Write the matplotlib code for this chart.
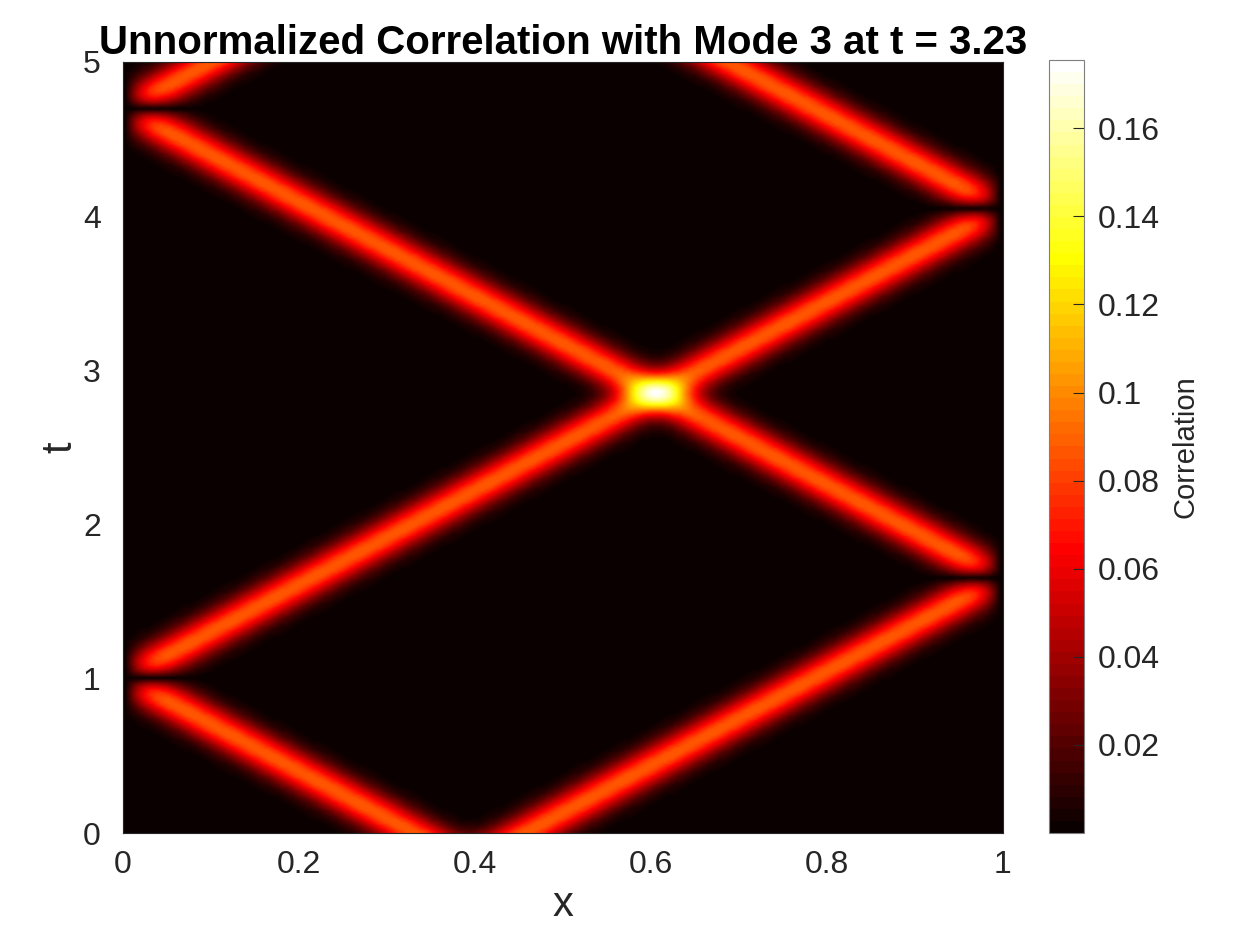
import numpy as np
import matplotlib
matplotlib.use("Agg")
import matplotlib.pyplot as plt

# -------------------------
# Values
# -------------------------
pulse_start_x = [0.328, 0.459]     # pulse centres at t = 0
pulse_direction = [-1, 1]          # left-moving, right-moving
wave_speed = 0.328                 # dx/dt of each band
pulse_width = 0.032                # gaussian sigma in x
pulse_peak = 0.0875                # band height (crossing reaches 2x)

x_range = [0.0, 1.0]
t_range = [0.0, 5.0]
n_x, n_t = 241, 361

c_min, c_max = 0.0, 0.1755
cbar_ticks = [0.02, 0.04, 0.06, 0.08, 0.10, 0.12, 0.14, 0.16]
cbar_labels = ["0.02", "0.04", "0.06", "0.08", "0.1", "0.12", "0.14", "0.16"]
x_ticks = [0, 0.2, 0.4, 0.6, 0.8, 1.0]
x_labels = ["0", "0.2", "0.4", "0.6", "0.8", "1"]
t_ticks = [0, 1, 2, 3, 4, 5]
t_labels = ["0", "1", "2", "3", "4", "5"]

title_txt = "Unnormalized Correlation with Mode 3 at t = 3.23"

# -------------------------
# Field: gaussian pulses reflecting off x=0 and x=1 (method of images)
# -------------------------
xs = np.linspace(x_range[0], x_range[1], n_x)
ts = np.linspace(t_range[0], t_range[1], n_t)
X, T = np.meshgrid(xs, ts)


def gauss(s):
    return np.exp(-s ** 2 / (2 * pulse_width ** 2))


field = np.zeros_like(X)
for x0, d in zip(pulse_start_x, pulse_direction):
    pos = x0 + d * wave_speed * T
    u = np.zeros_like(X)
    for n in range(-4, 5):
        u += gauss(X - pos - 2 * n) - gauss(X + pos + 2 * n)
    field += np.abs(u)
field *= pulse_peak

# -------------------------
# Plot
# -------------------------
plt.rcParams["font.family"] = ["Liberation Sans", "DejaVu Sans"]
txt_col = "#262626"

fig = plt.figure(figsize=(12.5, 9.38), dpi=100)
ax = fig.add_axes([123 / 1250, 1 - 833 / 938, 880 / 1250, 771 / 938])
cax = fig.add_axes([1049 / 1250, 1 - 833 / 938, 35 / 1250, 773 / 938])

cmap = plt.get_cmap("hot", 64)
im = ax.imshow(field, origin="lower", aspect="auto", cmap=cmap,
               extent=[x_range[0], x_range[1], t_range[0], t_range[1]],
               vmin=c_min, vmax=c_max, interpolation="bilinear")

ax.set_xlim(x_range)
ax.set_ylim(t_range)
ax.set_xticks(x_ticks)
ax.set_xticklabels(x_labels)
ax.set_yticks(t_ticks)
ax.set_yticklabels(t_labels)
ax.tick_params(direction="in", length=0, colors=txt_col, labelsize=23)
ax.tick_params(axis="x", pad=12)
ax.tick_params(axis="y", pad=16)
for s in ax.spines.values():
    s.set_color(txt_col)
    s.set_linewidth(0.8)

ax.set_xlabel("x", fontsize=30, color=txt_col, labelpad=4)
ax.set_ylabel("t", fontsize=30, color=txt_col, labelpad=2)
ax.set_title(title_txt, fontsize=29, fontweight="bold", color="black", pad=3)

cb = fig.colorbar(im, cax=cax)
cb.set_ticks(cbar_ticks)
cb.set_ticklabels(cbar_labels)
cb.ax.tick_params(direction="in", length=8, width=0.8, colors=txt_col,
                  labelsize=23, pad=10)
cb.outline.set_edgecolor("#7f7f7f")
cb.outline.set_linewidth(0.8)
cb.set_label("Correlation", fontsize=21, color=txt_col, labelpad=8)

fig.savefig("out.png", dpi=100)
